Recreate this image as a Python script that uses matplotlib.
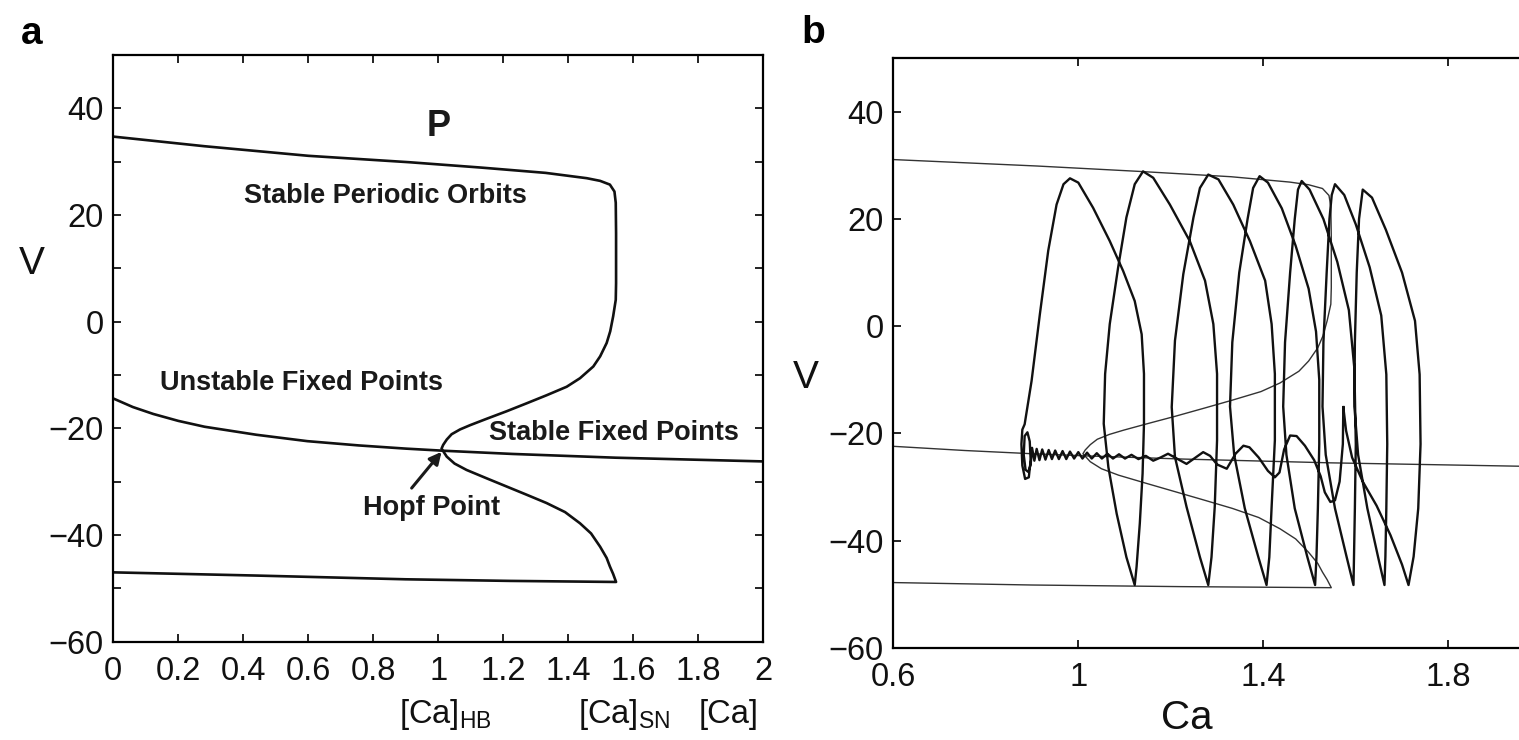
import matplotlib.pyplot as plt
import numpy as np

plt.rcParams['font.family'] = ['Liberation Sans', 'DejaVu Sans']
plt.rcParams['mathtext.fontset'] = 'custom'
plt.rcParams['mathtext.rm'] = 'Liberation Sans'

W, H = 1519, 740

# ---- panel a: bifurcation diagram of the fast subsystem ----
# periodic orbit branch, upper part (max V) running down to the Hopf point
po_upper_ca = [0.0, 0.28, 0.6, 0.91, 1.13, 1.33, 1.457, 1.498, 1.528, 1.542,
               1.546, 1.547, 1.547, 1.546, 1.538, 1.529, 1.518, 1.498, 1.477, 1.436,
               1.395, 1.333, 1.272, 1.21, 1.149, 1.098, 1.067, 1.041, 1.026, 1.015,
               1.01]
po_upper_v = [34.7, 32.9, 31.1, 29.9, 28.9, 27.9, 26.9, 26.4, 25.7, 24.4,
              22.3, 16.6, 7.2, 4.1, 1.0, -1.8, -4.0, -6.5, -8.4, -10.6,
              -12.2, -13.8, -15.3, -16.8, -18.2, -19.4, -20.2, -21.1, -22.1, -23.1,
              -23.8]
# lower part (min V) from the Hopf point to the saddle-node
po_lower_ca = [1.01, 1.026, 1.05, 1.087, 1.15, 1.21, 1.27, 1.333, 1.39, 1.436,
               1.47, 1.498, 1.518, 1.528, 1.538, 1.547]
po_lower_v = [-23.8, -25.3, -26.6, -27.8, -29.4, -30.9, -32.4, -34.0, -35.7, -37.8,
              -39.7, -42.2, -44.3, -45.9, -47.3, -48.8]
# min V of the stable periodic orbits
po_bottom_ca = [1.547, 1.22, 0.9, 0.44, 0.0]
po_bottom_v = [-48.8, -48.6, -48.3, -47.6, -47.0]
# fixed points
fp_ca = [0.0, 0.06, 0.123, 0.2, 0.281, 0.44, 0.597, 0.755, 0.9, 1.017, 1.229, 1.545, 2.0]
fp_v = [-14.4, -16.0, -17.3, -18.6, -19.7, -21.2, -22.4, -23.2, -23.8, -24.2, -24.8, -25.5, -26.2]

# ---- panel b: burst trajectory in the (Ca, V) plane ----
# quiescent phase: aborted spike, damped wiggles, spiral near Ca ~ 0.88
quiet_ca = [1.573, 1.572, 1.565, 1.555, 1.545, 1.533, 1.524, 1.51, 1.49, 1.472,
            1.458, 1.445, 1.435, 1.425, 1.41, 1.39, 1.37, 1.357, 1.34, 1.321,
            1.30, 1.285, 1.270, 1.252, 1.234, 1.215, 1.194, 1.178, 1.162, 1.146,
            1.130, 1.115, 1.101, 1.088, 1.075, 1.063, 1.051, 1.040, 1.029, 1.019,
            1.009, 1.000, 0.991, 0.982, 0.974, 0.966, 0.958, 0.950, 0.943, 0.936,
            0.929, 0.922, 0.916, 0.910, 0.905, 0.900, 0.897, 0.892, 0.886, 0.882,
            0.884, 0.890, 0.895, 0.897, 0.893, 0.885, 0.879, 0.877, 0.879, 0.884]
quiet_v = [-15.1, -22.0, -29.0, -32.5, -32.8, -31.0, -28.0, -25.0, -22.3, -20.5,
           -20.4, -23.0, -27.3, -28.2, -27.0, -24.5, -22.6, -22.3, -23.8, -26.6,
           -25.8, -24.2, -23.5, -24.6, -25.7, -24.8, -23.8, -24.5, -25.1, -24.2,
           -24.8, -24.0, -24.7, -23.9, -24.7, -23.8, -24.7, -23.7, -24.7, -23.6,
           -24.7, -23.5, -24.7, -23.4, -24.8, -23.3, -24.8, -23.2, -24.8, -23.1,
           -24.9, -23.0, -25.0, -22.9, -25.1, -22.7, -25.8, -27.2, -26.8, -24.0,
           -20.5, -19.8, -21.5, -25.0, -28.2, -28.5, -26.0, -22.0, -19.3, -18.3]
# active phase: seven spikes drifting to larger Ca, then back to the aborted spike
burst_ca = [
    0.899, 0.917, 0.935, 0.953, 0.968, 0.982, 1.000, 1.032, 1.068, 1.097,
    1.122, 1.137, 1.142, 1.142, 1.139, 1.133, 1.126, 1.122,
    1.104, 1.083, 1.065, 1.055, 1.058, 1.068, 1.086, 1.104, 1.122, 1.140,
    1.162, 1.198, 1.241, 1.274, 1.292, 1.300, 1.300, 1.295, 1.288, 1.281,
    1.263, 1.234, 1.209, 1.202, 1.209, 1.227, 1.249, 1.263, 1.281, 1.303,
    1.335, 1.371, 1.404, 1.418, 1.425, 1.425, 1.418, 1.413, 1.407,
    1.389, 1.360, 1.337, 1.328, 1.333, 1.348, 1.366, 1.378, 1.392, 1.410,
    1.440, 1.470, 1.498, 1.514, 1.521, 1.521, 1.518, 1.515, 1.512,
    1.495, 1.468, 1.450, 1.443, 1.447, 1.458, 1.468, 1.475, 1.483, 1.500,
    1.530, 1.560, 1.585, 1.597, 1.600, 1.598, 1.596, 1.595,
    1.580, 1.555, 1.535, 1.528, 1.530, 1.537, 1.543, 1.548, 1.555, 1.575,
    1.600, 1.630, 1.655, 1.666, 1.668, 1.666, 1.664, 1.662,
    1.648, 1.625, 1.605, 1.597, 1.598, 1.602, 1.607, 1.615, 1.635, 1.665,
    1.700, 1.728, 1.738, 1.740, 1.735, 1.725, 1.714,
    1.700, 1.675, 1.645, 1.615, 1.592, 1.579, 1.573]
burst_v = [
    -10.2, 2.3, 14.1, 22.7, 26.5, 27.6, 26.8, 22.1, 15.9, 10.3,
    4.7, -1.5, -8.9, -18.2, -27.5, -36.8, -44.9, -48.3,
    -43.1, -35.0, -26.3, -18.2, -8.9, 0.4, 10.9, 20.3, 26.5, 28.9,
    27.7, 22.7, 15.9, 8.5, 0.4, -8.9, -21.3, -33.7, -43.1, -48.3,
    -43.1, -33.7, -24.4, -15.1, -2.7, 9.7, 20.3, 25.8, 28.3, 27.4,
    22.7, 15.9, 8.5, 0.4, -8.9, -21.3, -33.7, -43.1, -48.3,
    -43.0, -34.0, -24.0, -15.0, -3.0, 10.0, 20.0, 25.8, 28.0, 26.8,
    22.0, 15.0, 7.0, -1.0, -10.0, -22.0, -34.0, -43.0, -48.3,
    -43.0, -34.0, -24.0, -15.0, -3.0, 10.0, 20.0, 25.5, 27.1, 25.5,
    20.0, 12.0, 3.0, -8.0, -22.0, -34.0, -43.0, -48.3,
    -43.0, -34.0, -24.0, -15.0, -3.0, 10.0, 20.0, 24.5, 26.5, 24.5,
    19.0, 11.0, 2.0, -9.0, -22.0, -34.0, -43.0, -48.3,
    -43.0, -34.0, -24.0, -15.0, -3.0, 10.0, 20.0, 25.5, 24.0, 18.0,
    10.0, 1.0, -9.0, -22.0, -34.0, -43.0, -48.3,
    -44.5, -39.0, -33.5, -29.0, -24.5, -19.5, -15.1]

a_xticks = [0, 0.2, 0.4, 0.6, 0.8, 1, 1.2, 1.4, 1.6, 1.8, 2]
a_xticklabels = ['0', '0.2', '0.4', '0.6', '0.8', '1', '1.2', '1.4', '1.6', '1.8', '2']
b_xticks = [0.6, 1.0, 1.4, 1.8]
b_xticklabels = ['0.6', '1', '1.4', '1.8']
v_ticks = [-60, -40, -20, 0, 20, 40]


def fig_xy(x, y):
    # pixel position (from top-left) -> figure fraction
    return x / W, 1 - y / H


def style_axes(ax):
    for s in ax.spines.values():
        s.set_linewidth(1.6)
    ax.tick_params(which='both', direction='in', length=5.5, width=1.3,
                   top=True, right=True, labelsize=23.5, colors='#111111')
    ax.tick_params(axis='x', pad=10)
    ax.tick_params(axis='y', pad=7)


fig = plt.figure(figsize=(W / 100, H / 100), dpi=100)
ax_a = fig.add_axes([113.3 / W, (H - 641.7) / H, 650 / W, 586.7 / H])
ax_b = fig.add_axes([893.3 / W, (H - 647.7) / H, 647.5 / W, 589.4 / H])

po_ca = po_upper_ca + po_lower_ca[1:] + po_bottom_ca[1:]
po_v = po_upper_v + po_lower_v[1:] + po_bottom_v[1:]

# panel a
ax_a.plot(po_ca, po_v, color='#111111', lw=1.9, solid_joinstyle='round')
ax_a.plot(fp_ca, fp_v, color='#111111', lw=1.9, solid_joinstyle='round')
ax_a.set_xlim(0, 2)
ax_a.set_ylim(-60, 50)
ax_a.set_xticks(a_xticks)
ax_a.set_xticklabels(a_xticklabels)
ax_a.set_yticks(v_ticks)
ax_a.set_yticks(np.arange(-50, 50, 20), minor=True)
style_axes(ax_a)

bold = dict(fontweight='bold', ha='center', va='center', color='#1a1a1a')
ax_a.text(1.0, 36.6, 'P', fontsize=26, **bold)
ax_a.text(0.837, 23.6, 'Stable Periodic Orbits', fontsize=19.5, **bold)
ax_a.text(0.580, -11.5, 'Unstable Fixed Points', fontsize=19.5, **bold)
ax_a.text(1.54, -20.8, 'Stable Fixed Points', fontsize=19.5, **bold)
ax_a.text(0.979, -34.9, 'Hopf Point', fontsize=19.5, **bold)
ax_a.annotate('', xy=(1.01, -24.4), xytext=(0.918, -31.2),
              arrowprops=dict(arrowstyle='-|>', color='#1a1a1a', lw=2.2,
                              mutation_scale=18, shrinkA=0, shrinkB=0))

# panel b
diag = dict(color='#333333', lw=1.0, zorder=1)
ax_b.plot(po_ca, po_v, **diag)
ax_b.plot(fp_ca, fp_v, **diag)
ax_b.plot(quiet_ca + burst_ca, quiet_v + burst_v, color='#111111', lw=1.7,
          solid_joinstyle='round', zorder=2)
ax_b.set_xlim(0.6, 2.0)
ax_b.set_ylim(-60, 50)
ax_b.set_xticks(b_xticks)
ax_b.set_xticklabels(b_xticklabels)
ax_b.set_yticks(v_ticks)
style_axes(ax_b)

# labels outside the axes
fig.text(*fig_xy(32, 34), 'a', fontsize=28, fontweight='bold', ha='center', va='center')
fig.text(*fig_xy(813, 33), 'b', fontsize=28, fontweight='bold', ha='center', va='center')
fig.text(*fig_xy(32, 264), 'V', fontsize=28, ha='center', va='center', color='#111111')
fig.text(*fig_xy(806, 378), 'V', fontsize=28, ha='center', va='center', color='#111111')
fig.text(*fig_xy(1187, 718), 'Ca', fontsize=29, ha='center', va='center', color='#111111')
fig.text(*fig_xy(445, 723), r'$\mathregular{[Ca]_{HB}}$', fontsize=23.5, ha='center',
         va='baseline', color='#111111')
fig.text(*fig_xy(624, 723), r'$\mathregular{[Ca]_{SN}}$', fontsize=23.5, ha='center',
         va='baseline', color='#111111')
fig.text(*fig_xy(729, 723), '[Ca]', fontsize=23.5, ha='center', va='baseline',
         color='#111111')

fig.savefig('out.png', dpi=100)
